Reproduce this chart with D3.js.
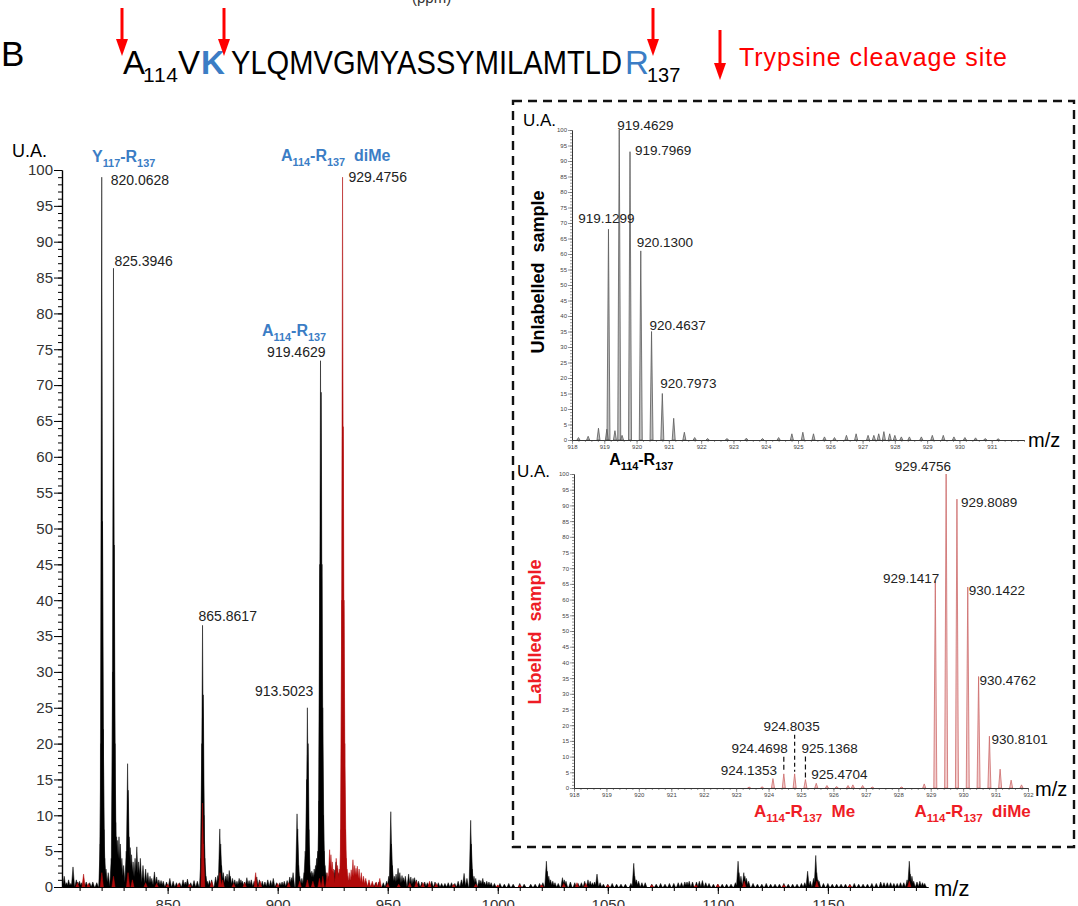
<!DOCTYPE html>
<html>
<head>
<meta charset="utf-8">
<script src="https://cdn.jsdelivr.net/npm/d3@7"></script>
<style>
body{margin:0;background:#fff;}
svg text{font-family:"Liberation Sans",Arial,sans-serif;}
</style>
</head>
<body>
<div id="root"></div>
<script>
// Define width and height
let width = 1078, height = 906;

// ---- data ----
// main spectrum, unlabelled sample (black): [m/z, intensity]
const mainBlack = [
[803,1.5],[805,1.0],[807,2.8],[808.5,1.0],[810,0.8],[813,0.7],[816,0.7],[817.8,0.6],
[819.4,6],[819.73,20],[820.06,99],[820.40,51],[820.73,22],[821.06,8],[821.4,4],[822,2.5],[823,2],
[824.4,4],[825.06,30],[825.39,86.3],[825.73,47.7],[826.06,20],[826.4,9],[826.8,7],[827.3,6.5],[827.9,7],[828.5,6],[829.2,4],[830,3],
[831.2,5],[831.8,17.2],[832.1,13.5],[832.5,7],[833,5.5],[833.6,4.5],[834.3,3.5],[835.2,4],[836,5.6],[836.8,3.5],[837.6,4],[838.8,3],
[840,2.5],[841,2],[842,1.5],[844,2.1],[846,1],[848,0.8],[851,1.2],[854,0.6],[857,1],[859,1.1],[862,0.9],
[865.2,4],[865.53,20],[865.86,36.5],[866.2,26.8],[866.5,10],[866.9,4],
[868,0.8],[870,1],[871.8,1.4],[873.7,8.1],[874.1,6],[874.5,3],[875.3,2],[876.3,1.5],[878,2.3],[878.5,1.5],[880.5,1],[882.5,1.2],
[884,0.8],[886,1.3],[888,1],[890.5,1.4],[893,0.8],[895.5,1],[898,1.2],[901,0.6],[903,0.8],[905.5,1.4],[907,2],
[908.8,10.2],[909.1,8.1],[909.5,3],[910,1.5],[911,1.2],[912.5,5],[913.17,15],[913.5,25],[913.84,20],[914.17,8],[914.5,3],[915,2],
[916,2],[916.6,2.5],[917.2,3],[917.7,4],[918.2,5],[918.8,12],[919.13,45],[919.46,73.4],[919.8,69],[920.13,45],[920.46,25],[920.8,10],[921.1,5],[921.5,3],
[922,2],[923,1.5],[924.5,1.5],[925.5,2],[926.5,3.5],[927.5,2],[928.5,2],[930.5,1.5],[931.5,1.5],[933,1],[935,1],[938,0.8],[940,0.8],[943,0.5],[946,0.7],[948,0.6],
[951.4,10.5],[951.7,6],[952.1,3],[953,1.5],[954.7,2.6],[955.5,2],[956.5,1.6],[958,1.5],[959.5,1.8],[961.5,1.2],[963,1],[965.5,0.7],[968,0.6],[970,0.8],
[973,0.6],[976,0.5],[979,0.6],[982,0.8],[984.7,1.9],
[987.7,9.3],[988,6],[988.4,2.5],[990,1.2],[991.5,1],[993.2,1.2],[995,0.8],[997,0.6],[1001,0.5],[1005,0.5],[1010,0.5],[1015,0.4],[1019,0.5],
[1022.1,3.6],[1022.5,2.2],[1024,1],[1026,0.6],[1029.4,1.3],[1031,0.8],[1035,0.6],[1038,0.6],[1041,1],[1043,0.6],[1045.1,1.8],[1048,0.4],[1052,0.5],[1056,0.4],
[1061.8,3.3],[1062.2,1.5],[1064,0.8],[1067,0.6],[1070,0.4],[1074,0.5],[1078,0.5],[1082,0.6],[1085,0.7],[1087,0.8],[1090.3,0.7],[1093,0.9],[1096,0.5],[1100,0.4],[1104,0.4],
[1109.2,3.6],[1109.6,2],[1111.8,2],[1112.3,1.5],[1114,0.8],[1118,0.4],[1122,0.5],[1126,0.4],[1130,0.5],[1134,0.4],[1138,0.5],
[1140.8,2.2],[1144.5,4.4],[1144.9,2],[1146,0.8],[1150,0.5],[1154,0.4],[1158,0.4],[1162,0.5],[1166,0.4],[1170,0.5],[1174,0.7],[1177,0.6],[1180,0.5],[1183,0.6],
[1187,3.6],[1187.4,1.8],[1189,0.8],[1191.8,0.8],[1194,0.5]
];

// baseline clutter of the black trace
const mainBlackMinor = [
[804,0.6],[806,0.5],[809.2,0.7],[811,0.6],[812,0.5],[814.6,0.6],[842.8,1.2],[845,1.4],[847,0.9],[849.5,0.7],[852.5,0.8],[855.5,0.6],
[858,0.7],[860.5,0.6],[863.5,0.8],[867.4,1.5],[869,0.9],[872.8,1.6],[877,1.8],[879.5,1.2],[881.5,0.8],[883.3,1],[885,0.7],[887,0.9],
[889.3,0.8],[891.7,1],[894.2,0.7],[896.8,0.9],[899.5,0.6],[902,0.7],[904.3,0.9],[906.3,1.3],[912,2],[915.5,2.2],[923.6,2],[925,2.2],
[926,2.4],[927,2.6],[928,1.8],[929.2,1.4],[930,1.2],[932,1],[934,1.1],[936.5,0.9],[939,0.7],[941.5,0.6],[944.5,0.6],[949.5,0.8],
[950.5,1.5],[953.8,1.8],[957.2,1.3],[960.5,1.4],[962.2,1.3],[964,0.8],[966.8,0.7],[969,0.5],[971.5,0.7],[974.5,0.5],[977.5,0.6],
[980.5,0.5],[983.5,1],[986,1.2],[989.2,1.5],[992.3,0.9],[994,0.7],[996,0.7],[998.5,0.5],[1003,0.4],[1007,0.4],[1012,0.4],[1017,0.4],
[1020.5,0.6],[1023.2,1.5],[1025,0.8],[1027.5,0.5],[1030.2,1],[1033,0.7],[1036.5,0.5],[1039.5,0.8],[1042,0.8],[1044,0.7],[1046.5,0.6],
[1050,0.4],[1054,0.4],[1058,0.4],[1060.5,0.5],[1063,1],[1065.5,0.6],[1072,0.4],[1076,0.4],[1080,0.5],[1083.5,0.6],[1086,0.7],
[1088.5,0.7],[1091.6,0.8],[1094.5,0.6],[1098,0.4],[1102,0.4],[1106,0.4],[1108,0.6],[1110.5,1.5],[1113,1.2],[1116,0.5],[1120,0.4],
[1124,0.4],[1128,0.4],[1132,0.4],[1136,0.4],[1139.5,0.6],[1142,0.8],[1143.5,1.2],[1145.5,1],[1148,0.5],[1152,0.4],[1156,0.4],
[1160,0.4],[1164,0.4],[1168,0.4],[1172,0.5],[1175.5,0.6],[1178.5,0.6],[1181.5,0.5],[1184.5,0.6],[1186,1],[1188.2,1.5],[1190.5,0.7],[1193,0.6]
];

// main spectrum, labelled sample (red)
const mainRed = [
[809,0.6],[811.8,1.8],[814,0.5],[820.1,2],[825.4,1.5],[832,2],[834,1],[840,0.6],[845,0.5],[850,0.4],[855,0.5],[860,0.4],
[865.86,11.7],[866.2,6],[870,0.8],[873.8,2],[875,1],[880,0.5],[885,0.6],[890,2],[892,0.8],[900,0.5],[905,0.6],[910,0.8],[913.5,1],[916,0.8],
[919,1.2],[920.5,1.5],[922.5,2],[923.6,5.2],[924.2,4.5],[924.8,3.5],[925.4,2.5],[926.6,4],[927.2,3],[928,2.5],[928.8,8],
[929.14,40],[929.48,99],[929.81,64.2],[930.14,40],[930.48,20],[930.81,8],[931.14,4],[931.5,2.5],[932.5,2],
[933.4,2.4],[934.2,3.8],[935,3],[935.6,2.6],[936.2,2.9],[937,2.5],[938,2],[939,1.5],[940,1.2],[941.5,1],[943,0.8],[944.8,0.7],[946.4,1.2],
[950,0.5],[955,0.4],[960,0.6],[963,0.8],[966,0.6],[969,0.8],[972,0.5],[980,0.4],[990,0.4],[1000,0.3],[1010,0.3],[1020,0.3],[1030,0.5],[1036,0.6],
[1040,0.5],[1050,0.3],[1070,0.3],[1090,0.3],[1100,0.4],[1112,0.8],[1130,0.3],[1145,0.8],[1160,0.3],[1187,0.8]
];

const mainTicks = [850,900,950,1000,1050,1100,1150];
const mainLabels = [
  {mz:820.06, v:99, text:'820.0628'},
  {mz:825.39, v:86.3, text:'825.3946'},
  {mz:865.86, v:36.5, text:'865.8617'},
  {mz:913.5, v:25, text:'913.5023'},
  {mz:919.46, v:73.4, text:'919.4629'},
  {mz:929.48, v:99, text:'929.4756'}
];

// inset: unlabelled sample (grey)
const topPeaks = [
[918.2,0.8],[918.5,1.2],[918.82,3.8],[919.08,3.5],[919.1299,68],[919.33,3],[919.4629,100],[919.55,1.5],[919.7969,93],
[920.1300,61],[920.4637,35],[920.7973,15],[921.15,7],[921.48,2.5],[921.8,0.8],[922.2,0.5],[922.8,0.5],[923.4,0.6],[923.9,0.5],
[924.4,0.8],[924.81,2],[925.15,2.5],[925.48,2],[925.82,1],[926.13,0.8],[926.5,1.5],[926.8,2],[927.17,1.5],[927.35,1.5],[927.5,2],
[927.66,2.7],[927.84,2],[928,1.5],[928.2,1],[928.45,1],[928.82,1],[929.16,1.5],[929.5,1.5],[929.83,1],[930.17,0.8],[930.5,0.7],[930.8,0.5],[931.2,0.4]
];
const topLabels = ['919.1299','919.4629','919.7969','920.1300','920.4637','920.7973'];

// inset: labelled sample (pink)
const botPeaks = [
[923.4,0.3],[923.8,0.4],[924.1353,3],[924.4698,4.5],[924.8035,4.5],[925.1368,2.7],[925.4704,1.5],[925.8,0.8],[926.1,0.5],
[926.45,0.8],[926.6,1.0],[926.9,0.8],[927.2,0.3],[928.1,0.3],[928.8,1.3],
[929.1417,66],[929.4756,100],[929.8089,92],[930.1422,64],[930.4762,35.5],[930.8101,16.5],[931.14,6],[931.48,2.5],[931.8,1.0]
];
const botLabels = ['924.1353','924.4698','924.8035','925.1368','925.4704','929.1417','929.4756','929.8089','930.1422','930.4762','930.8101'];

const insetTicksTop = d3.range(918, 932);
const insetTicksBot = d3.range(918, 933);

//Initialize svg
var svg = d3.select('#root')
  .append('svg')
  .attr('width', width)
  .attr('height', height);

const blue = '#3b7dc5', red = '#ee1c25';

// helper: text with subscript pieces, parts = [[string, isSub], ...]
function rich(g, x, y, parts, size, attrs) {
  var t = g.append('text').attr('x', x).attr('y', y).attr('font-size', size);
  Object.keys(attrs || {}).forEach(k => t.attr(k, attrs[k]));
  var inSub = false;
  parts.forEach(p => {
    var s = t.append('tspan').text(p[0]);
    if (p[1] && !inSub) { s.attr('dy', size * 0.3).attr('font-size', size * 0.68); inSub = true; }
    else if (p[1]) { s.attr('font-size', size * 0.68); }
    else if (!p[1] && inSub) { s.attr('dy', -size * 0.3); inSub = false; }
  });
  return t;
}

function peakPath(data, x, y, hw) {
  var y0 = y(0);
  return data.map(d => 'M' + (x(d[0]) - hw) + ',' + y0 + 'L' + x(d[0]) + ',' + y(d[1]) + 'L' + (x(d[0]) + hw) + ',' + y0 + 'Z').join('');
}

// ---------- header ----------
var head = svg.append('g');
head.append('text').attr('x', 1).attr('y', 66).attr('font-size', 35).text('B');
head.append('text').attr('x', 123).attr('y', 74).attr('font-size', 33).attr('font-family', 'Lato').text('A');
head.append('text').attr('x', 143).attr('y', 82).attr('font-size', 21).attr('font-family', 'Lato').attr('textLength', 35).text('114');
head.append('text').attr('x', 178).attr('y', 74).attr('font-size', 33).attr('font-family', 'Lato').text('V');
head.append('text').attr('x', 201).attr('y', 74).attr('font-size', 33).attr('font-family', 'Lato').attr('font-weight', 'bold').attr('fill', blue).text('K');
head.append('text').attr('x', 231).attr('y', 74).attr('font-size', 33).attr('font-family', 'Lato').attr('textLength', 391).attr('lengthAdjust', 'spacingAndGlyphs').text('YLQMVGMYASSYMILAMTLD');
head.append('text').attr('x', 625).attr('y', 74).attr('font-size', 33).attr('font-family', 'Lato').attr('fill', blue).text('R');
head.append('text').attr('x', 647).attr('y', 82).attr('font-size', 20).attr('font-family', 'Lato').text('137');
head.append('text').attr('x', 412).attr('y', 3).attr('font-size', 15).attr('fill', '#333').text('(ppm)');

// cleavage arrows
function arrow(x, y1, y2) {
  head.append('line').attr('x1', x).attr('x2', x).attr('y1', y1).attr('y2', y2 - 14)
    .attr('stroke', '#f00').attr('stroke-width', 3);
  head.append('path').attr('d', 'M' + (x - 6) + ',' + (y2 - 17) + 'L' + (x + 6) + ',' + (y2 - 17) + 'L' + x + ',' + y2 + 'Z').attr('fill', '#f00');
}
[122, 224, 653].forEach(x => arrow(x, 8, 56));
arrow(720, 30, 80);
head.append('text').attr('x', 739).attr('y', 66).attr('font-size', 25).attr('font-family', 'Lato')
  .attr('fill', '#f00').attr('textLength', 268).text('Trypsine cleavage site');

// ---------- main spectrum ----------
var xScale = d3.scaleLinear().domain([802, 1195.5]).range([62, 928]);
var yScale = d3.scaleLinear().domain([0, 100]).range([887, 170]);

var main = svg.append('g');
main.append('path').attr('d', peakPath(mainBlack.concat(mainBlackMinor), xScale, yScale, 1.6))
  .attr('fill', '#000').attr('stroke', '#000').attr('stroke-width', 0.5);
main.append('path').attr('d', peakPath(mainRed, xScale, yScale, 1.6))
  .attr('fill', '#b00a0a').attr('stroke', '#b00a0a').attr('stroke-width', 0.5);

// y axis
main.append('g').attr('transform', 'translate(62,0)')
  .call(d3.axisLeft(yScale).tickValues(d3.range(0, 101, 1)).tickSize(4).tickSizeOuter(0).tickFormat(''));
main.append('g').attr('transform', 'translate(62,0)')
  .call(d3.axisLeft(yScale).tickValues(d3.range(0, 101, 5)).tickSize(8).tickSizeOuter(0).tickPadding(1))
  .call(g => g.selectAll('text').attr('font-size', 15).attr('fill', '#333').attr('font-family', '"Liberation Sans",Arial'));

// x axis
main.append('g').attr('transform', 'translate(0,887)')
  .call(d3.axisBottom(xScale).tickValues(d3.range(810, 1195, 10)).tickSize(4).tickSizeOuter(0).tickFormat(''));
main.append('g').attr('transform', 'translate(0,887)')
  .call(d3.axisBottom(xScale).tickValues(mainTicks).tickSize(7).tickSizeOuter(0).tickPadding(5).tickFormat(d3.format('d')))
  .call(g => g.selectAll('text').attr('font-size', 15).attr('fill', '#333').attr('font-family', '"Liberation Sans",Arial'));
main.selectAll('.domain').attr('stroke-width', 1.2);

main.append('text').attr('x', 12).attr('y', 157).attr('font-size', 18).attr('font-family', 'Noto Sans').text('U.A.');
main.append('text').attr('x', 934).attr('y', 896).attr('font-size', 22).attr('font-family', 'Noto Sans').text('m/z');

// peak labels
var offs = {
  '820.0628': [9, 8, 'start'], '825.3946': [1, -2, 'start'], '865.8617': [-4, -4, 'start'],
  '913.5023': [6, -12, 'end'], '919.4629': [5, -4, 'end'], '929.4756': [6, 5, 'start']
};
mainLabels.forEach(d => {
  var o = offs[d.text];
  main.append('text').attr('x', xScale(d.mz) + o[0]).attr('y', yScale(d.v) + o[1])
    .attr('font-size', 14).attr('fill', '#222').attr('text-anchor', o[2]).text(d.text);
});
rich(main, 92, 162, [['Y'], ['117', 1], ['-R'], ['137', 1]], 16, {'font-weight': 'bold', fill: blue});
rich(main, 262, 336, [['A'], ['114', 1], ['-R'], ['137', 1]], 16, {'font-weight': 'bold', fill: blue});
rich(main, 281, 161, [['A'], ['114', 1], ['-R'], ['137', 1], ['  diMe']], 16, {'font-weight': 'bold', fill: blue, 'xml:space': 'preserve'});

// ---------- inset ----------
var inset = svg.append('g');
inset.append('rect').attr('x', 513).attr('y', 101).attr('width', 561).attr('height', 746)
  .attr('fill', 'none').attr('stroke', '#111').attr('stroke-width', 2.4).attr('stroke-dasharray', '9,6');

function insetAxes(g, x, y, ticks, y0) {
  g.append('g').attr('transform', 'translate(' + x.range()[0] + ',0)')
    .call(d3.axisLeft(y).tickValues(d3.range(0, 101, 1)).tickSize(2).tickSizeOuter(0).tickFormat(''));
  g.append('g').attr('transform', 'translate(' + x.range()[0] + ',0)')
    .call(d3.axisLeft(y).tickValues(d3.range(0, 101, 5)).tickSize(4).tickSizeOuter(0).tickPadding(1))
    .call(a => a.selectAll('text').attr('font-size', 6).attr('fill', '#444'));
  g.append('g').attr('transform', 'translate(0,' + y0 + ')')
    .call(d3.axisBottom(x).tickValues(d3.range(x.domain()[0], x.domain()[1] + 0.01, 0.2)).tickSize(2).tickSizeOuter(0).tickFormat(''));
  g.append('g').attr('transform', 'translate(0,' + y0 + ')')
    .call(d3.axisBottom(x).tickValues(ticks).tickSize(4).tickSizeOuter(0).tickPadding(1))
    .call(a => a.selectAll('text').attr('font-size', 6).attr('fill', '#444'));
  g.selectAll('.domain').attr('stroke', '#333').attr('stroke-width', 0.9);
  g.selectAll('.tick line').attr('stroke', '#555').attr('stroke-width', 0.6);
}

// top inset
var xTop = d3.scaleLinear().domain([918, 932]).range([572, 1024]);
var yTop = d3.scaleLinear().domain([0, 100]).range([440, 130]);
var gTop = inset.append('g');
gTop.append('path').attr('d', peakPath(topPeaks, xTop, yTop, 1.5))
  .attr('fill', '#bdbdbd').attr('stroke', '#5a5a5a').attr('stroke-width', 0.8);
insetAxes(gTop, xTop, yTop, insetTicksTop, 440);
var topOff = {
  '919.1299': [-2, -6, 'middle'], '919.4629': [-2, 0, 'start'], '919.7969': [5, 3, 'start'],
  '920.1300': [-4, -4, 'start'], '920.4637': [-2, -2, 'start'], '920.7973': [-2, -6, 'start']
};
topLabels.forEach(t => {
  var p = topPeaks.find(d => d[0] === +t), o = topOff[t];
  gTop.append('text').attr('x', xTop(p[0]) + o[0]).attr('y', yTop(p[1]) + o[1])
    .attr('font-size', 13.5).attr('fill', '#222').attr('text-anchor', o[2]).text(t);
});
gTop.append('text').attr('x', 523).attr('y', 126).attr('font-size', 17).attr('font-family', 'Noto Sans').text('U.A.');
gTop.append('text').attr('x', 1028).attr('y', 447).attr('font-size', 20).attr('font-family', 'Noto Sans').text('m/z');
gTop.append('text').attr('transform', 'translate(544,272) rotate(-90)').attr('text-anchor', 'middle')
  .attr('font-size', 18).attr('font-weight', 'bold').attr('xml:space', 'preserve').text('Unlabelled  sample');
rich(gTop, xTop(919.15), 465, [['A'], ['114', 1], ['-R'], ['137', 1]], 16, {'font-weight': 'bold'});

// bottom inset
var xBot = d3.scaleLinear().domain([918, 932]).range([574, 1028]);
var yBot = d3.scaleLinear().domain([0, 100]).range([788, 474]);
var gBot = inset.append('g');
gBot.append('path').attr('d', peakPath(botPeaks, xBot, yBot, 1.5))
  .attr('fill', '#f3cccc').attr('stroke', '#cc6a6a').attr('stroke-width', 0.8);
insetAxes(gBot, xBot, yBot, insetTicksBot, 788);
var botOff = {
  '924.1353': [4, -4, 'end'], '924.4698': [4, -21, 'end', 5], '924.8035': [-3, -43, 'middle', 4],
  '925.1368': [-4, -27, 'start', 5], '925.4704': [-5, -4, 'start'],
  '929.1417': [4, 2, 'end'], '929.4756': [5, -3, 'end'], '929.8089': [4, 8, 'start'],
  '930.1422': [1, 8, 'start'], '930.4762': [1, 8, 'start'], '930.8101': [2, 8, 'start']
};
botLabels.forEach(t => {
  var p = botPeaks.find(d => d[0] === +t), o = botOff[t];
  var px = xBot(p[0]), py = yBot(p[1]);
  gBot.append('text').attr('x', px + o[0]).attr('y', py + o[1])
    .attr('font-size', 13.5).attr('fill', '#222').attr('text-anchor', o[2]).text(t);
  if (o[3]) {
    gBot.append('line').attr('x1', px).attr('x2', px).attr('y1', py + o[1] + 4).attr('y2', py - 2)
      .attr('stroke', '#111').attr('stroke-width', 1.2).attr('stroke-dasharray', o[3] + ',3');
  }
});
gBot.append('text').attr('x', 517).attr('y', 477).attr('font-size', 17).attr('font-family', 'Noto Sans').text('U.A.');
gBot.append('text').attr('x', 1035).attr('y', 796).attr('font-size', 20).attr('font-family', 'Noto Sans').text('m/z');
gBot.append('text').attr('transform', 'translate(541,632) rotate(-90)').attr('text-anchor', 'middle')
  .attr('font-size', 18).attr('font-weight', 'bold').attr('fill', red).attr('xml:space', 'preserve').text('Labelled  sample');
rich(gBot, xBot(923.55), 817, [['A'], ['114', 1], ['-R'], ['137', 1], ['  Me']], 17, {'font-weight': 'bold', fill: red, 'xml:space': 'preserve'});
rich(gBot, xBot(928.5), 817, [['A'], ['114', 1], ['-R'], ['137', 1], ['  diMe']], 17, {'font-weight': 'bold', fill: red, 'xml:space': 'preserve'});
</script>
</body>
</html>
